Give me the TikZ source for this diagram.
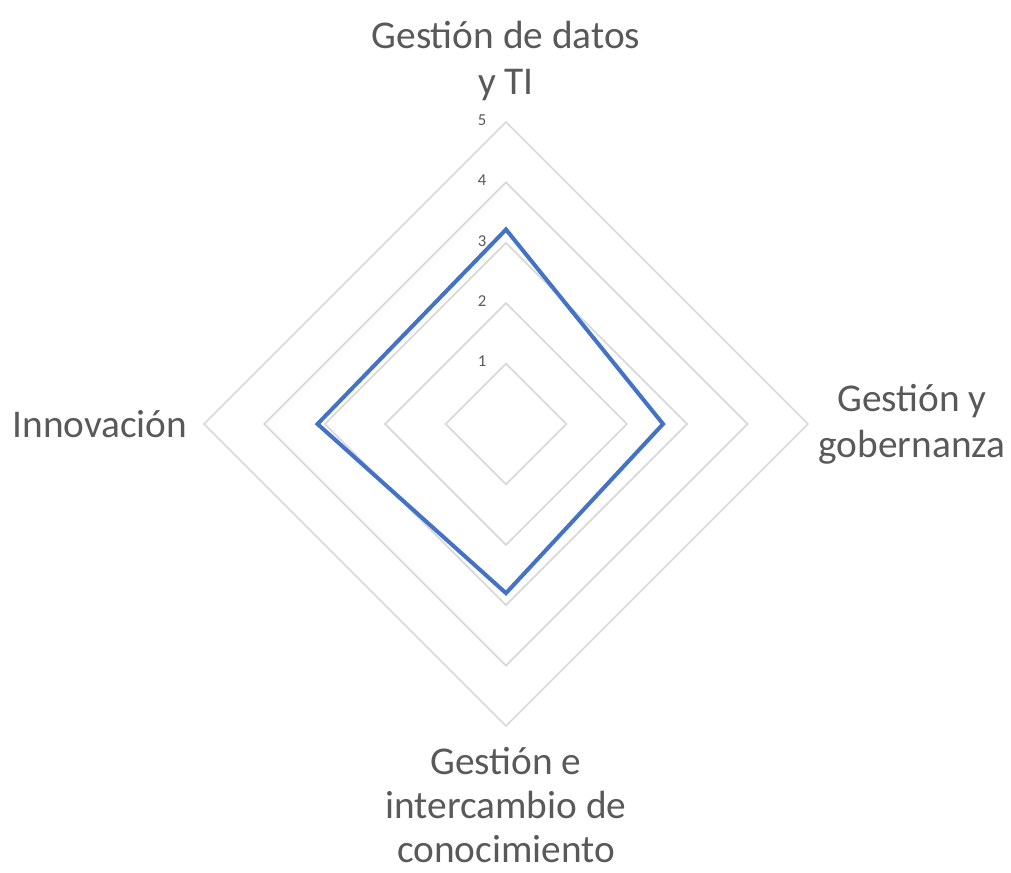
\documentclass[tikz,border=0pt]{standalone}
\usepackage{fontspec}
\setmainfont{Carlito}
\definecolor{gridgray}{HTML}{D9D9D9}
\definecolor{seriesblue}{HTML}{4472C4}
\definecolor{labelgray}{HTML}{595959}
\tikzset{
  axislabel/.style={text=labelgray, font=\fontsize{29.5}{34.5}\selectfont, align=center},
  ticklabel/.style={text=labelgray, font=\fontsize{12.5}{14}\selectfont, anchor=east, inner sep=1pt},
  ring/.style={draw=gridgray, line width=1.3pt},
  series/.style={draw=seriesblue, line width=3pt, line join=miter}
}
\begin{document}
\begin{tikzpicture}[x=0.75pt,y=0.75pt]
		\useasboundingbox (-506,-448) rectangle (505,424);

		% grid rings and scale
		\foreach \r in {1,...,5}
			\draw[ring] (0,\r*60.4) -- (\r*60.4,0) -- (0,-\r*60.4) -- (-\r*60.4,0) -- cycle;
		\foreach \r in {1,...,5}
			\node[ticklabel] (tick\r) at (-18,\r*60.4+2) {\r};

		% series values
		\coordinate (datos) at (0,3.22*60.4);
		\coordinate (gobernanza) at (2.6*60.4,0);
		\coordinate (conocimiento) at (0,-2.8*60.4);
		\coordinate (innovacion) at (-3.12*60.4,0);
		\draw[series] (datos) -- (gobernanza) -- (conocimiento) -- (innovacion) -- cycle;

		% axis labels
		\node[axislabel] (labdatos) at (0,363) {Gestión de datos\\y TI};
		\node[axislabel] (labgob) at (406,0) {Gestión y\\gobernanza};
		\node[axislabel, inner sep=0pt, font=\fontsize{29.5}{33}\selectfont] (labcon) at (0,-381) {Gestión e\\intercambio de\\conocimiento};
		\node[axislabel] (labinn) at (-406,0) {Innovación};
\end{tikzpicture}
\end{document}
